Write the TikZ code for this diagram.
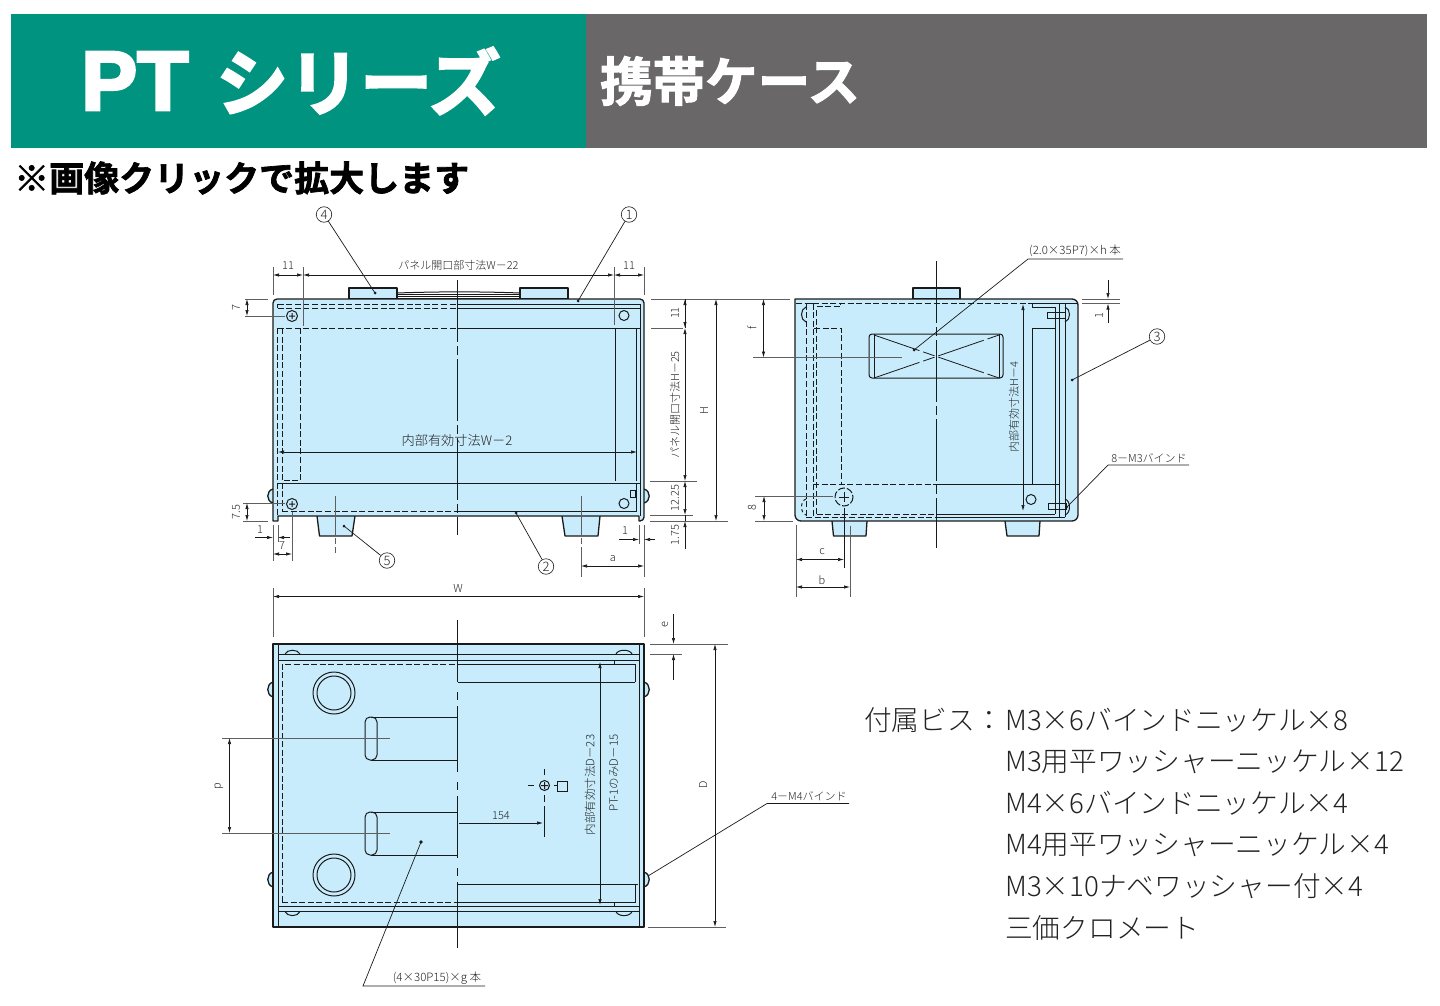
\documentclass[tikz,border=0pt]{standalone}
\usepackage{fontspec}
\usetikzlibrary{arrows.meta}
\setmainfont{Noto Sans CJK JP Light}
\newfontfamily\headfont[FakeBold=3.2]{Noto Sans CJK JP Bold}
\newfontfamily\subfont[FakeBold=2]{Noto Sans CJK JP Bold}
\newfontfamily\latinhead[FakeBold=3.5]{Liberation Sans Bold}
\definecolor{bannergreen}{HTML}{009380}
\definecolor{bannergray}{HTML}{696767}
\definecolor{caseblue}{HTML}{C8ECFC}
\definecolor{inkc}{HTML}{1A1A1A}
\definecolor{labelc}{HTML}{222222}
\tikzset{
  body/.style={draw=inkc,fill=caseblue,line width=1.3pt,line join=round},
  part/.style={draw=inkc,line width=1pt},
  hidden/.style={draw=inkc,line width=.9pt,dash pattern=on 6pt off 2.6pt},
  cline/.style={draw=inkc,line width=.7pt,dash pattern=on 62pt off 4pt on 9pt off 4pt},
  extline/.style={draw=inkc!70,line width=.7pt},
  dimline/.style={draw=inkc,line width=.7pt,{Latex[length=6pt,width=3.4pt]}-{Latex[length=6pt,width=3.4pt]}},
  tipline/.style={draw=inkc,line width=.7pt,-{Latex[length=6pt,width=3.4pt]}},
  leader/.style={draw=inkc,line width=.7pt},
  dotmark/.style={fill=inkc,draw=none},
  lab/.style={text=labelc,font=\fontsize{11}{11}\selectfont,inner sep=0pt},
  labbig/.style={text=labelc,font=\fontsize{13.2}{13}\selectfont,inner sep=0pt},
  callout/.style={circle,draw=inkc,line width=.6pt,fill=white,minimum size=15.5pt,inner sep=0pt,text=labelc,font=\fontsize{13}{13}\selectfont},
  listing/.style={text=labelc,font=\fontsize{27.7}{28}\selectfont,inner sep=0pt,anchor=west},
}
\begin{document}
\begin{tikzpicture}[x=1pt,y=-1pt]
\useasboundingbox (0,0) rectangle (1440,1006);
% banner
\fill[bannergreen] (11,14) rectangle (586,148);
\fill[bannergray] (586,14) rectangle (1427,148);
\node[anchor=west,text=white,inner sep=0pt,font=\latinhead\fontsize{84}{84}\selectfont] (ttlpt) at (81,81) {PT};
\node[anchor=west,text=white,inner sep=0pt,font=\headfont\fontsize{72}{72}\selectfont] (ttlser) at (216,81) {シリーズ};
\node[anchor=west,text=white,inner sep=0pt,font=\subfont\fontsize{52.5}{52}\selectfont] (ttlsub) at (600,81) {携帯ケース};
\node[anchor=west,text=black,inner sep=0pt,font=\subfont\fontsize{35}{35}\selectfont] (note) at (14,178) {※画像クリックで拡大します};

%% ---------- FRONT VIEW ----------
\draw[body] (349,288) rectangle (397,299);
\draw[body] (520,288) rectangle (568,299);
\draw[part] (397,293) .. controls (440,291.5) and (480,291.5) .. (520,293);
\draw[part] (397,294.7) -- (520,294.7) (397,296.3) -- (520,296.3);
\draw[part] (397,298) -- (520,298);
\draw[body] (273,489) .. controls (266,491) and (266,501) .. (273,503);
\draw[body] (644,489) .. controls (651,491) and (651,501) .. (644,503);
\draw[body] (317,516) -- (319.5,536) -- (352,536) -- (355,516);
\draw[body] (562,516) -- (565,536) -- (598,536) -- (600,516);
\draw[body] (273,521) [rounded corners=4pt] -- (273,299) -- (644,299) -- (644,521) [sharp corners] -- (639,521) -- (639,516) -- (278,516) -- (278,521) -- cycle;
% inner lines
\draw[hidden] (277.5,304) -- (457,304);
\draw[part] (457,304) -- (640,304) -- (640,516);
\draw[hidden] (277.5,308) -- (457,308);
\draw[part] (457,308) -- (639.5,308);
\draw[hidden] (277.5,328) -- (457,328);
\draw[part] (457,328) -- (639.5,328);
\draw[part] (277.5,304) -- (277.5,308);
\draw[hidden] (277.5,328) -- (277.5,516);
\draw[hidden] (282,328) -- (282,511);
\draw[hidden] (300.5,328) -- (300.5,480.5) -- (282,480.5);
\draw[part] (615,328) -- (615,481);
\draw[part] (636,328) -- (636,481);
\draw[part] (278,483) -- (639.5,483);
\draw[hidden] (282,511) -- (457,511);
\draw[part] (457,511) -- (636,511) -- (636,483);
\draw[part] (630,490.5) rectangle (635,497.5);
% screws
\draw[part] (292,316) circle[radius=5.5] (289,316) -- (295,316) (292,313) -- (292,319);
\draw[part] (292,504) circle[radius=5.5] (289,504) -- (295,504) (292,501) -- (292,507);
\draw[part] (624,315.5) circle[radius=5];
\draw[part] (624,503.5) circle[radius=5];
% centre lines
\draw[cline] (457.5,280) -- (457.5,535);
\draw[extline,dash pattern=on 39pt off 3pt on 6pt off 3pt on 99pt] (335.5,496) -- (335.5,553);
\draw[extline,dash pattern=on 39pt off 3pt on 6pt off 3pt on 99pt] (581,496) -- (581,577);
% dims top
\draw[extline] (273,267) -- (273,295) (303,267) -- (303,326) (614,267) -- (614,325) (644,267) -- (644,295);
\draw[dimline] (273,275) -- (303,275);
\draw[dimline] (303,275) -- (614,275);
\draw[dimline] (614,275) -- (644,275);
\node[lab] (f11a) at (288,266) {11};
\node[lab] (fw22) at (458.5,265.5) {パネル開口部寸法W－22};
\node[lab] (f11b) at (629,266) {11};
% dims left
\draw[extline] (245,299) -- (268,299) (245,316) -- (285,316);
\draw[dimline] (247,299) -- (247,316);
\node[lab,rotate=90] (f7a) at (236,308) {7};
\draw[extline] (243,503) -- (285,503) (243,521) -- (268,521);
\draw[dimline] (247,503) -- (247,521);
\node[lab,rotate=90] (f75) at (236,512) {7.5};
% dims bottom left
\draw[extline] (273,525) -- (273,561) (278,525) -- (278,542) (292,512) -- (292,561);
\draw[tipline] (255,537.5) -- (273,537.5);
\draw[tipline] (290,537.5) -- (278,537.5);
\node[lab] (f1a) at (260,530) {1};
\draw[dimline] (273,554) -- (292,554);
\node[lab] (f7b) at (282,546) {7};
% dims bottom right
\draw[extline] (639,525) -- (639,544) (644,525) -- (644,577);
\draw[tipline] (619,539.5) -- (639,539.5);
\draw[tipline] (655,539.5) -- (644,539.5);
\node[lab] (f1b) at (625,531) {1};
\draw[dimline] (581,566) -- (644,566);
\node[lab] (fa) at (613,559) {a};
% W
\draw[extline] (273,588) -- (273,637) (644,588) -- (644,637);
\draw[dimline] (273,596.5) -- (644,596.5);
\node[lab] (fw) at (458,588.5) {W};
% inner width
\draw[dimline] (278,452) -- (637,452);
\node[labbig] (fw2) at (457,440.5) {内部有効寸法W－2};
% dims right
\draw[extline] (651,299) -- (790,299) (651,328) -- (683,328) (650,481) -- (697,481) (650,515) -- (693,515) (650,521) -- (728,521);
\draw[dimline] (716,299) -- (716,521);
\node[lab,rotate=90] (fh) at (704,411) {H};
\draw[draw=inkc,line width=.7pt] (685,299) -- (685,328);
\draw[dimline] (685,328) -- (685,481);
\draw[dimline] (685,481) -- (685,515);
\draw[tipline] (685,549) -- (685,521);
\draw[draw=inkc,line width=.7pt] (685,515) -- (685,521);
\draw[tipline] (685,310) -- (685,299);
\draw[tipline] (685,316) -- (685,328);
\node[lab,rotate=90] (fr11) at (675,313) {11};
\node[lab,rotate=90] (fh25) at (675,405) {パネル開口寸法H－25};
\node[lab,rotate=90] (f1225) at (675,498) {12.25};
\node[lab,rotate=90] (f175) at (675,535) {1.75};
% callouts
\node[callout] (c4) at (324,214.5) {4};
\coordinate (c4t) at (375,293);
\draw[leader] (c4) -- (c4t); \fill[dotmark] (c4t) circle[radius=1.5];
\node[callout] (c1) at (629,214.5) {1};
\coordinate (c1t) at (578,301);
\draw[leader] (c1) -- (c1t); \fill[dotmark] (c1t) circle[radius=1.5];
\node[callout] (c2) at (546,566.5) {2};
\coordinate (c2t) at (516,513);
\draw[leader] (c2) -- (c2t); \fill[dotmark] (c2t) circle[radius=1.5];
\node[callout] (c5) at (387,560.5) {5};
\coordinate (c5t) at (344,526);
\draw[leader] (c5) -- (c5t); \fill[dotmark] (c5t) circle[radius=1.5];

%% ---------- SIDE VIEW ----------
\draw[body] (913,288) rectangle (960,299);
\draw[body] (832,521) -- (833.5,536) -- (866,536) -- (867,521);
\draw[body] (1005,521) -- (1007,536) -- (1039,536) -- (1040,521);
\draw[body] (795,299) [rounded corners=6pt] -- (795,521) -- (1078,521) -- (1078,299) [sharp corners] -- cycle;
\draw[hidden] (796,303.5) -- (1032,303.5);
\draw[part] (1032,303.5) -- (1077,303.5);
\draw[hidden] (806,303.5) -- (806,517);
\draw[hidden] (813,303.5) -- (813,517);
\draw[part] (806,303.5) -- (813,303.5);
\draw[hidden] (816.5,310) -- (816.5,514) ;
\draw[hidden] (816.5,306.5) -- (840,306.5) -- (840,303.5);
\draw[hidden] (814,328) -- (841,328) -- (841,484);
\draw[hidden] (813,484) -- (936,484);
\draw[part] (936,484) -- (1059,484);
\draw[hidden] (816.5,514) -- (936,514);
\draw[part] (936,514) -- (1055,514);
\draw[hidden] (806,517) -- (936,517);
\draw[part] (936,517) -- (1065,517);
\draw[part] (1032,303.5) -- (1032,307) -- (1055,307) -- (1055,514);
\draw[part] (1032,328) -- (1055,328);
\draw[part] (1032,328) -- (1032,484);
\draw[part] (1059,303.5) -- (1059,517);
\draw[part] (1065,303.5) -- (1065,517);
% bumps and screws
\draw[part] (806,307) .. controls (800,309) and (800,320) .. (806,322);
\draw[part,dashed] (806,499) .. controls (800,501) and (800,513) .. (806,515);
\draw[part] (1065,307) .. controls (1071,309) and (1071,320) .. (1065,322);
\draw[part] (1065,499) .. controls (1071,501) and (1071,513) .. (1065,515);
\draw[part] (1047,312) rectangle (1065,318);
\draw[part] (1048,503) rectangle (1066,509);
\draw[part,dash pattern=on 7pt off 2pt] (844,497) circle[radius=9];
\draw[part] (839,497) -- (849,497) (844,492) -- (844,502);
\draw[part] (1031,499.5) circle[radius=5];
% window
\draw[part,rounded corners=3pt] (869,334) rectangle (1003,378);
\draw[part] (874,334) -- (874,378) (999,334) -- (999,378);
\draw[draw=inkc,line width=.8pt,dash pattern=on 48pt off 4pt on 12pt off 4pt] (874,335) -- (999,378);
\draw[draw=inkc,line width=.8pt,dash pattern=on 48pt off 4pt on 12pt off 4pt] (874,378) -- (999,335);
% dims
\draw[cline] (936.5,261) -- (936.5,548);
\draw[extline] (753,357.5) -- (902,357.5);
\draw[dimline] (763.5,299) -- (763.5,357.5);
\node[lab,rotate=90] (sf) at (752,328) {f};
\draw[extline] (755,496) -- (833,496) (755,521) -- (793,521);
\draw[dimline] (764,496) -- (764,521);
\node[lab,rotate=90] (s8) at (752,508) {8};
\draw[extline] (1082,299) -- (1120,299) (1082,303.5) -- (1120,303.5);
\draw[tipline] (1108,280) -- (1108,299);
\draw[tipline] (1108,323) -- (1108,303.5);
\node[lab,rotate=90] (s1) at (1099,316) {1};
\draw[dimline] (1023,304) -- (1023,511);
\node[lab,rotate=90] (sh4) at (1014,407) {内部有効寸法H－4};
\draw[extline] (796,525) -- (796,597) (850,526) -- (850,597);
\draw[draw=inkc,line width=.7pt] (844,508) -- (844,568);
\draw[dimline] (796,559.5) -- (844,559.5);
\draw[dimline] (796,587) -- (850,587);
\node[lab] (sc) at (822,552) {c};
\node[lab] (sb) at (822,580) {b};
\node[callout] (c3) at (1157,336.5) {3};
\coordinate (c3t) at (1072,380);
\draw[leader] (c3) -- (c3t); \fill[dotmark] (c3t) circle[radius=1.5];
\node[lab,font=\fontsize{11.5}{11.5}\selectfont] (s35) at (1075,251) {(2.0×35P7)×h 本};
\coordinate (s35a) at (1123,259); \coordinate (s35b) at (1028,259); \coordinate (s35t) at (914,350);
\draw[leader] (s35a) -- (s35b) -- (s35t); \fill[dotmark] (s35t) circle[radius=1.5];
\node[lab] (sm3) at (1149,458) {8－M3バインド};
\coordinate (sm3a) at (1189,465); \coordinate (sm3b) at (1108,465); \coordinate (sm3t) at (1067,507);
\draw[leader] (sm3a) -- (sm3b) -- (sm3t); \fill[dotmark] (sm3t) circle[radius=1.2];

%% ---------- PLAN VIEW ----------
\draw[body] (273,682) .. controls (266,684) and (266,695) .. (273,697);
\draw[body] (273,872) .. controls (266,874) and (266,885) .. (273,887);
\draw[body] (644,682) .. controls (651,684) and (651,695) .. (644,697);
\draw[body] (644,872) .. controls (651,874) and (651,885) .. (644,887);
\draw[body] (273,644) rectangle (644,927);
\draw[part] (278,644) -- (278,927) (639,644) -- (639,927);
\draw[part] (278,654) -- (639,654) (278,660.5) -- (639,660.5);
\draw[part] (278,911.5) -- (639,911.5) (278,906) -- (639,906);
\draw[hidden] (282,902) -- (282,664.5) -- (457.5,664.5);
\draw[hidden] (282,902) -- (457.5,902);
\draw[part] (457.5,664.5) -- (635,664.5) -- (635,682) (635,682) -- (457.5,682);
\draw[part] (457.5,884) -- (638,884) (635,884) -- (635,902) -- (457.5,902);
\draw[part] (614,660.5) -- (614,664.5) (614,902) -- (614,906);
% small corner bumps
\draw[part] (285,654) .. controls (287,649) and (298,649) .. (300,654);
\draw[part] (616,654) .. controls (618,649) and (630,649) .. (632,654);
\draw[part] (285,911.5) .. controls (287,917) and (298,917) .. (300,911.5);
\draw[part] (616,911.5) .. controls (618,917) and (630,917) .. (632,911.5);
% holes
\draw[part] (334,693) circle[radius=21] (334,693) circle[radius=17];
\draw[part] (334,875) circle[radius=21] (334,875) circle[radius=17];
\draw[part,rounded corners=5pt] (365,717) rectangle (377,760);
\draw[part,rounded corners=5pt] (365,812) rectangle (377,855);
\draw[part,line width=.8pt] (371,717) -- (457.5,717) (371,760) -- (457.5,760);
\draw[part,line width=.8pt] (371,812) -- (457.5,812) (371,855) -- (457.5,855);
% centre mark
\draw[part] (544.5,785.5) circle[radius=5] (541,785.5) -- (548,785.5) (544.5,782) -- (544.5,789);
\draw[draw=inkc,line width=.7pt] (528,785.5) -- (534,785.5);
\draw[draw=inkc,line width=.7pt] (544.5,769) -- (544.5,775) (544.5,795) -- (544.5,802) (544.5,806) -- (544.5,837);
\draw[part,line width=.8pt] (557,781) rectangle (567,791) (554,785.5) -- (557,785.5);
% dims
\draw[cline,dash pattern=on 62pt off 10pt on 8pt off 6pt on 66pt off 10pt on 8pt off 6pt] (457.5,620) -- (457.5,952);
\draw[extline] (222,738) -- (390,738) (222,833) -- (390,833);
\draw[dimline] (229.5,738) -- (229.5,833);
\node[lab,rotate=90] (pp) at (219,786) {p};
\draw[tipline] (459,823) -- (543,823);
\node[lab] (p154) at (501,816) {154};
\draw[dimline] (600,662) -- (600,905);
\node[lab,rotate=90,font=\fontsize{11.5}{11.5}\selectfont] (pd23) at (590,785) {内部有効寸法D－23};
\node[lab,rotate=90,font=\fontsize{11.5}{11.5}\selectfont] (pd15) at (614,773) {PT-1のみD－15};
\draw[extline] (650,644) -- (728,644) (648,927) -- (726,927) (650,654) -- (682,654);
\draw[dimline] (715,644) -- (715,927);
\node[lab,rotate=90] (pD) at (703,785) {D};
\draw[tipline] (673.5,614) -- (673.5,644);
\draw[tipline] (673.5,680) -- (673.5,654);
\node[lab,rotate=90] (pe) at (665,625) {e};
\node[lab] (pm4) at (809,796) {4－M4バインド};
\coordinate (pm4a) at (849,803.5); \coordinate (pm4b) at (767,803.5); \coordinate (pm4t) at (648,876);
\draw[leader] (pm4a) -- (pm4b) -- (pm4t);
\node[lab,font=\fontsize{11.5}{11.5}\selectfont] (pg) at (437,978) {(4×30P15)×g 本};
\coordinate (pga) at (485,986); \coordinate (pgb) at (363,986); \coordinate (pgt) at (421,842);
\draw[leader] (pga) -- (pgb) -- (pgt); \fill[dotmark] (pgt) circle[radius=1.8];

%% ---------- LIST ----------
\node[listing] (l0) at (864,720) {付属ビス：};
\node[listing] (l1) at (1005,720) {M3×6バインドニッケル×8};
\node[listing] (l2) at (1005,761.5) {M3用平ワッシャーニッケル×12};
\node[listing] (l3) at (1005,803) {M4×6バインドニッケル×4};
\node[listing] (l4) at (1005,845) {M4用平ワッシャーニッケル×4};
\node[listing] (l5) at (1005,886) {M3×10ナベワッシャー付×4};
\node[listing] (l6) at (1005,927.5) {三価クロメート};
\end{tikzpicture}
\end{document}
